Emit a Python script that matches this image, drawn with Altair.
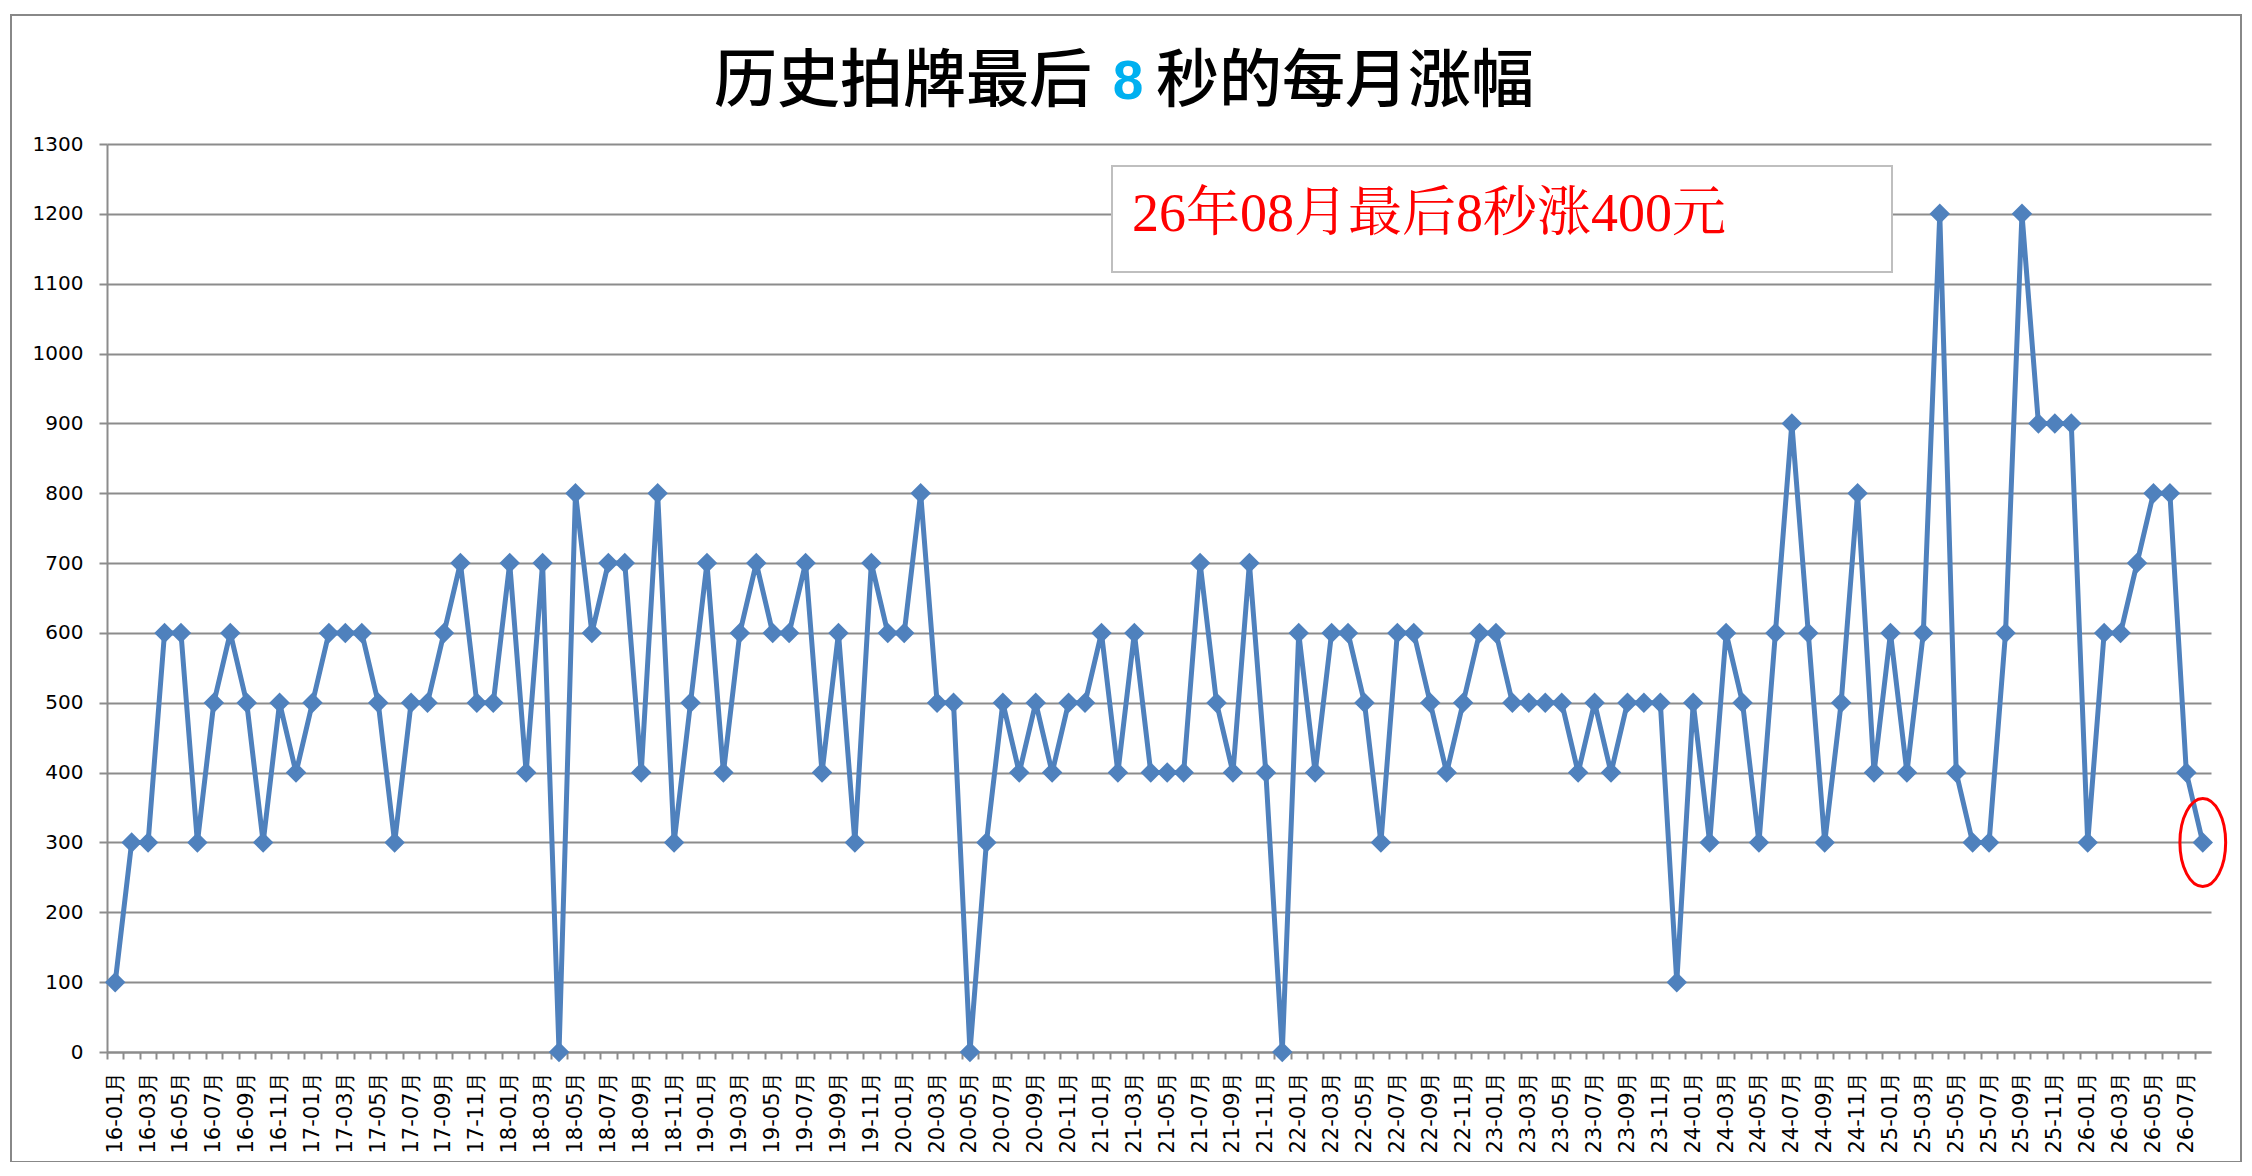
import altair as alt
import pandas as pd

# monthly rise (yuan) in the last 8 seconds, 2016-01 .. 2026-08
v16 = [100, 300, 300, 600, 600, 300, 500, 600, 500, 300, 500, 400]
v17 = [500, 600, 600, 600, 500, 300, 500, 500, 600, 700, 500, 500]
v18 = [700, 400, 700, 0, 800, 600, 700, 700, 400, 800, 300, 500]
v19 = [700, 400, 600, 700, 600, 600, 700, 400, 600, 300, 700, 600]
v20 = [600, 800, 500, 500, 0, 300, 500, 400, 500, 400, 500, 500]
v21 = [600, 400, 600, 400, 400, 400, 700, 500, 400, 700, 400, 0]
v22 = [600, 400, 600, 600, 500, 300, 600, 600, 500, 400, 500, 600]
v23 = [600, 500, 500, 500, 500, 400, 500, 400, 500, 500, 500, 100]
v24 = [500, 300, 600, 500, 300, 600, 900, 600, 300, 500, 800, 400]
v25 = [600, 400, 600, 1200, 400, 300, 300, 600, 1200, 900, 900, 900]
v26 = [300, 600, 600, 700, 800, 800, 400, 300]

years = ["16", "17", "18", "19", "20", "21", "22", "23", "24", "25", "26"]
series = [v16, v17, v18, v19, v20, v21, v22, v23, v24, v25, v26]
y_ticks = [0, 100, 200, 300, 400, 500, 600, 700, 800, 900, 1000, 1100, 1200, 1300]

title_left = "历史拍牌最后"
title_num = "8"
title_right = "秒的每月涨幅"
note = "26年08月最后8秒涨400元"

months, values = [], []
for yy, vals in zip(years, series):
    for i, v in enumerate(vals):
        months.append(f"{yy}-{i + 1:02d}")
        values.append(v)

df = pd.DataFrame({"month": months, "value": values})
last = df.tail(1)

W, H = 2104, 908
step = W / len(months)
BLUE = "#4F81BD"
GRAY = "#8C8C8C"

x_enc = alt.X(
    "month:O", sort=None,
    scale=alt.Scale(type="point", padding=0.5),
    axis=alt.Axis(
        title=None, labelAngle=-90, labelOverlap=False,
        labelExpr="toNumber(substring(datum.value,3,5)) % 2 == 1 ? datum.value + '月' : ''",
        labelFont="DejaVu Sans", labelFontSize=21, labelColor="black", labelPadding=12,
        tickColor=GRAY, tickWidth=2, tickSize=7,
        tickOffset=-step / 2, labelOffset=step / 2,
        domainColor=GRAY, domainWidth=2, grid=False,
    ),
)
y_enc = alt.Y(
    "value:Q",
    scale=alt.Scale(domain=[0, 1300], nice=False),
    axis=alt.Axis(
        title=None, values=y_ticks, format="d", grid=True, gridColor=GRAY, gridWidth=2,
        tickColor=GRAY, tickWidth=2, tickSize=8, labelPadding=16,
        labelFont="DejaVu Sans", labelFontSize=20, labelColor="black",
        domainColor=GRAY, domainWidth=2,
    ),
)

base = alt.Chart(df).encode(x=x_enc, y=y_enc)
line = base.mark_line(color=BLUE, strokeWidth=5)
dots = base.mark_point(shape="diamond", filled=True, size=420, color=BLUE, opacity=1)

ring = alt.Chart(last).mark_point(
    shape="M0,-1A0.52,1,0,1,1,0,1A0.52,1,0,1,1,0,-1Z",
    size=7744, filled=False, color="#FF0000", strokeWidth=3, opacity=1,
).encode(x=alt.X("month:O", sort=None), y="value:Q")

one = pd.DataFrame({"k": [0]})
frame = alt.Chart(one).mark_rect(
    fill="white", fillOpacity=0, stroke="#888888", strokeWidth=2
).encode(x=alt.value(-96), x2=alt.value(2134), y=alt.value(-129), y2=alt.value(1018))

box = alt.Chart(one).mark_rect(
    fill="white", stroke="#BFBFBF", strokeWidth=2
).encode(x=alt.value(1005), x2=alt.value(1785), y=alt.value(22), y2=alt.value(128))

box_text = alt.Chart(one).mark_text(
    text=note, align="left", baseline="middle", color="#FF0000",
    font="Liberation Serif, Noto Serif CJK SC, Noto Sans CJK SC", fontSize=54,
).encode(x=alt.value(1025), y=alt.value(71))

t1 = alt.Chart(one).mark_text(
    text=title_left, align="right", baseline="middle", color="black",
    font="Noto Sans CJK SC", fontSize=63, fontWeight=500,
).encode(x=alt.value(985), y=alt.value(-62))
t2 = alt.Chart(one).mark_text(
    text=title_num, align="center", baseline="middle", color="#00B0F0",
    font="Liberation Sans", fontSize=55, fontWeight="bold",
).encode(x=alt.value(1021), y=alt.value(-62))
t3 = alt.Chart(one).mark_text(
    text=title_right, align="left", baseline="middle", color="black",
    font="Noto Sans CJK SC", fontSize=63, fontWeight=500,
).encode(x=alt.value(1049), y=alt.value(-62))

chart = alt.layer(frame, line, dots, ring, box, box_text, t1, t2, t3).properties(
    width=W, height=H,
    autosize=alt.AutoSizeParams(type="none"),
    padding={"left": 99, "top": 136, "right": 32, "bottom": 110},
).configure_view(strokeWidth=0)

chart.save("out.html", embed_options={"renderer": "svg", "actions": False})
